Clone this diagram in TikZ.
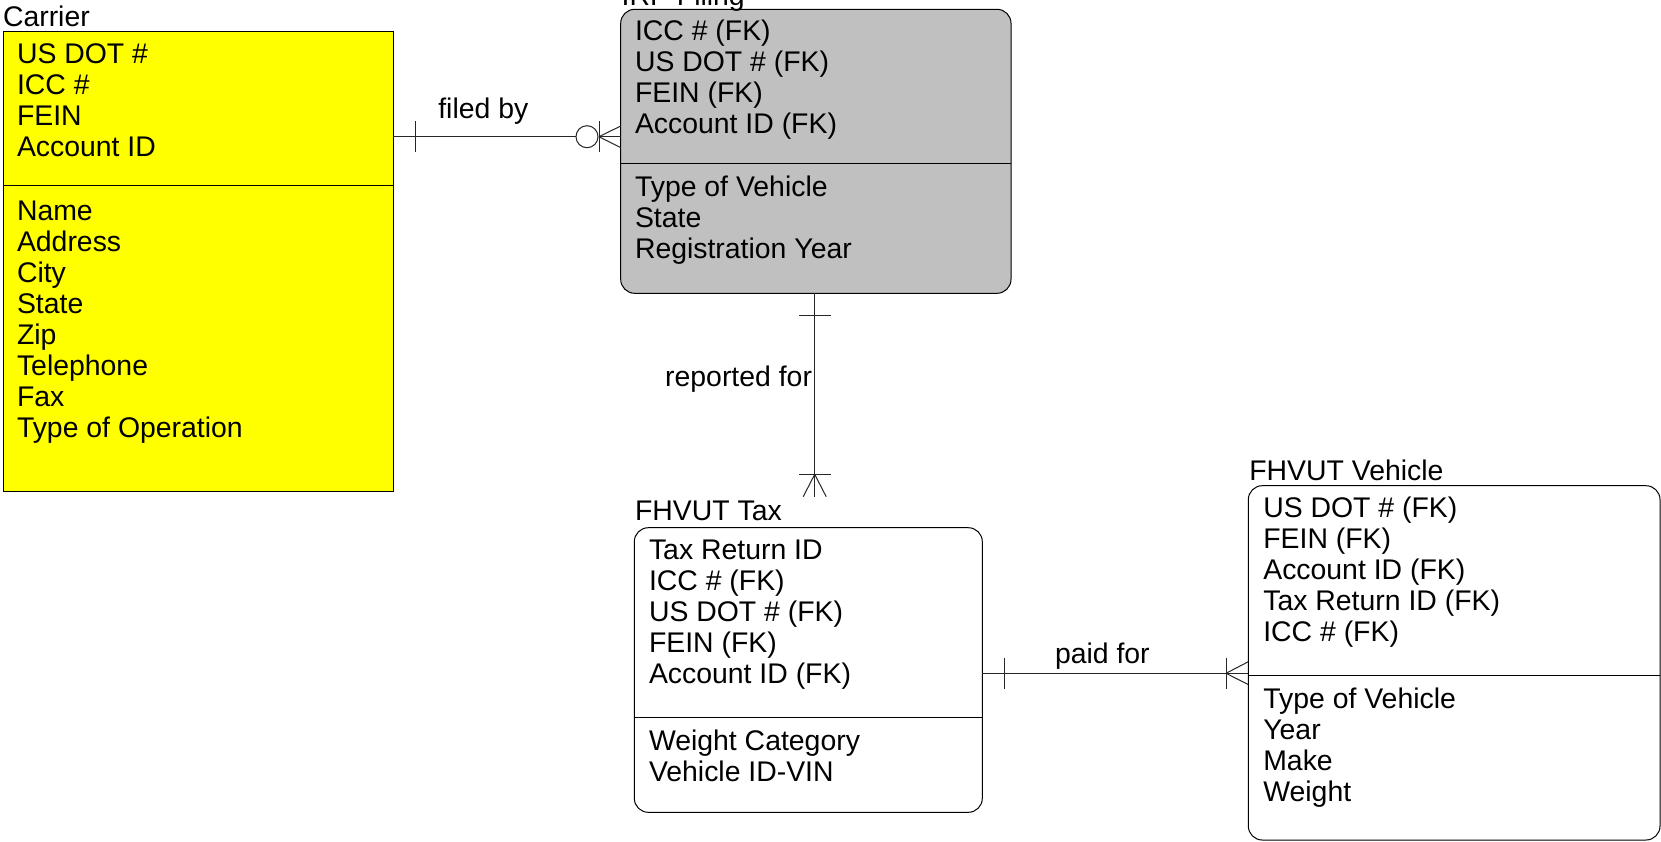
\documentclass[tikz,border=0pt]{standalone}
\usepackage{fontspec}
\setmainfont{Liberation Sans}
\usetikzlibrary{calc}
\definecolor{entityyellow}{RGB}{255,255,0}
\definecolor{entitygray}{RGB}{192,192,192}
\begin{document}
\begin{tikzpicture}[x=1pt,y=-1pt,
  every node/.style={font=\fontsize{28.4}{31}\selectfont, inner sep=0pt, outer sep=0pt},
  entity/.style={draw=black, line width=1pt, anchor=north west},
  roundbox/.style={entity, rounded corners=14pt},
  caption/.style={anchor=base west},
  attrs/.style={anchor=base west},
  rel/.style={draw=black!85, line width=1pt},
  divider/.style={draw=black, line width=1pt}
]
\clip (0,0) rectangle (1661,841);
\fill[white] (0,0) rectangle (1661,841);

% ---------- Carrier ----------
\node[entity, fill=entityyellow, minimum width=390pt, minimum height=460pt] (carrier) at (3,31.5) {};
\draw[divider] (carrier.west |- 0,185) -- (carrier.east |- 0,185);
\node[caption] (carriertitle) at (3,26) {Carrier};
\node[attrs] (carrierkeys) at (17,63) {\begin{tabular}[t]{@{}l@{}}US DOT \#\\ICC \#\\FEIN\\Account ID\end{tabular}};
\node[attrs] (carrierattrs) at (17,220) {\begin{tabular}[t]{@{}l@{}}Name\\Address\\City\\State\\Zip\\Telephone\\Fax\\Type of Operation\end{tabular}};

% ---------- IRP Filing ----------
\node[roundbox, fill=entitygray, minimum width=390.3pt, minimum height=284pt] (irp) at (620.7,9.3) {};
\draw[divider] (irp.west |- 0,163.3) -- (irp.east |- 0,163.3);
\node[caption] (irptitle) at (621.7,5.5) {IRP Filing};
\node[attrs] (irpkeys) at (635,40) {\begin{tabular}[t]{@{}l@{}}ICC \# (FK)\\US DOT \# (FK)\\FEIN (FK)\\Account ID (FK)\end{tabular}};
\node[attrs] (irpattrs) at (635,196.7) {\begin{tabular}[t]{@{}l@{}}Type of Vehicle\\State\\Registration Year\end{tabular}};

% ---------- FHVUT Tax ----------
\node[roundbox, fill=white, minimum width=348pt, minimum height=284.6pt] (tax) at (634.3,527.7) {};
\draw[divider] (tax.west |- 0,717.3) -- (tax.east |- 0,717.3);
\node[caption] (taxtitle) at (635,520.7) {FHVUT Tax};
\node[attrs] (taxkeys) at (649,559.3) {\begin{tabular}[t]{@{}l@{}}Tax Return ID\\ICC \# (FK)\\US DOT \# (FK)\\FEIN (FK)\\Account ID (FK)\end{tabular}};
\node[attrs] (taxattrs) at (649,750) {\begin{tabular}[t]{@{}l@{}}Weight Category\\Vehicle ID-VIN\end{tabular}};

% ---------- FHVUT Vehicle ----------
\node[roundbox, fill=white, minimum width=411.7pt, minimum height=354.3pt] (veh) at (1248.3,485.7) {};
\draw[divider] (veh.west |- 0,675) -- (veh.east |- 0,675);
\node[caption] (vehtitle) at (1249.3,480) {FHVUT Vehicle};
\node[attrs] (vehkeys) at (1263.3,517.3) {\begin{tabular}[t]{@{}l@{}}US DOT \# (FK)\\FEIN (FK)\\Account ID (FK)\\Tax Return ID (FK)\\ICC \# (FK)\end{tabular}};
\node[attrs] (vehattrs) at (1263.3,708.3) {\begin{tabular}[t]{@{}l@{}}Type of Vehicle\\Year\\Make\\Weight\end{tabular}};

% ---------- filed by: Carrier (one) to IRP Filing (zero or many) ----------
\coordinate (fbline) at (0,136.7);
\coordinate (fbbar) at (599,136.7);
\draw[rel] (carrier.east |- fbline) -- (576,136.7);
\draw[rel] (587,136.7) circle (11);
\draw[rel] (415.3,121.2) -- (415.3,152.2);
\draw[rel] (599,121.2) -- (599,152.2);
\draw[rel] (fbbar) -- (irp.west |- fbline);
\draw[rel] (fbbar) -- (irp.west |- 0,126);
\draw[rel] (fbbar) -- (irp.west |- 0,147.6);
\node[anchor=base west] (filedby) at (438.3,118.3) {filed by};

% ---------- reported for: IRP Filing (one) to FHVUT Tax (one or many) ----------
\coordinate (rfend) at (814.7,496.7);
\coordinate (rfbar) at (814.7,474.3);
\draw[rel] (irp.south -| rfend) -- (rfend);
\draw[rel] (799,315.3) -- (830.5,315.3);
\draw[rel] (799,474.3) -- (830.5,474.3);
\draw[rel] (rfbar) -- (803.2,496.7);
\draw[rel] (rfbar) -- (826.2,496.7);
\node[anchor=base east] (reportedfor) at (812,386) {reported for};

% ---------- paid for: FHVUT Tax (one) to FHVUT Vehicle (one or many) ----------
\coordinate (pfline) at (0,673.3);
\coordinate (pfbar) at (1226,673.3);
\draw[rel] (tax.east |- pfline) -- (veh.west |- pfline);
\draw[rel] (1004.3,657.5) -- (1004.3,689.3);
\draw[rel] (1226,657.5) -- (1226,689.3);
\draw[rel] (pfbar) -- (veh.west |- 0,661.7);
\draw[rel] (pfbar) -- (veh.west |- 0,684.5);
\node[anchor=base west] (paidfor) at (1055,663.3) {paid for};
\end{tikzpicture}
\end{document}
